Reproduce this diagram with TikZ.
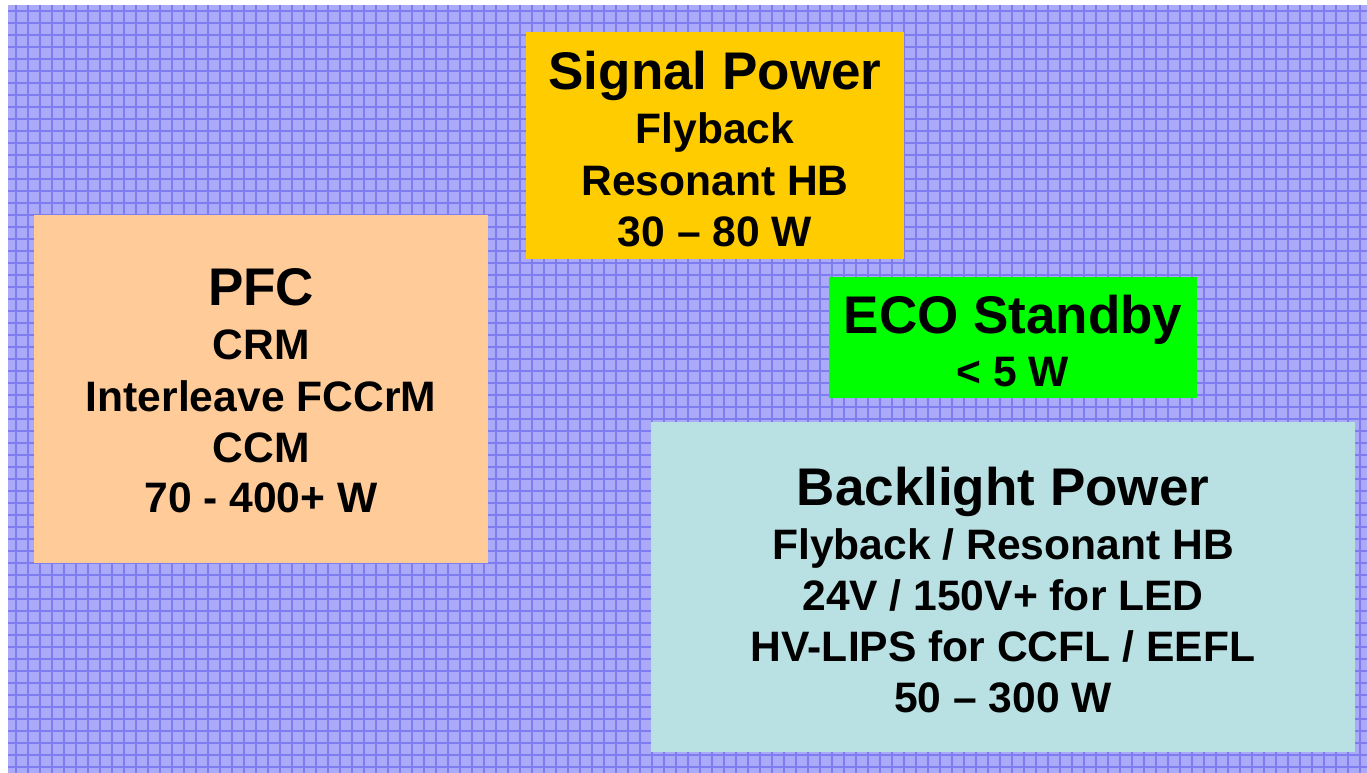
\documentclass[tikz,border=0pt]{standalone}
\usepackage{fontspec}
\setmainfont{Liberation Sans}
\definecolor{bgfill}{RGB}{170,170,248}
\definecolor{bgline}{RGB}{125,125,240}
\definecolor{sigcol}{RGB}{255,204,0}
\definecolor{pfccol}{RGB}{255,204,153}
\definecolor{ecocol}{RGB}{0,255,0}
\definecolor{blcol}{RGB}{185,224,226}
\tikzset{
  ttl/.style={anchor=base, font=\bfseries\fontsize{53}{60}\selectfont, inner sep=0pt},
  sub/.style={anchor=base, font=\bfseries\fontsize{42.6}{50}\selectfont, inner sep=0pt},
  gridln/.style={bgline, line width=1.3pt},
}
\begin{document}
\begin{tikzpicture}[x=1pt,y=-1pt]
\useasboundingbox (0,0) rectangle (1367,773);
\fill[white] (0,0) rectangle (1367,773);
% patterned background
\fill[bgfill] (8,5) rectangle (1367,773);
\begin{scope}
\clip (8,5) rectangle (1367,773);
\foreach \i in {0,...,113} {
  \draw[gridln] (16+12*\i,5) -- (16+12*\i,773);
}
\foreach \j in {0,...,64} {
  \draw[gridln] (8,11+12*\j) -- (1367,11+12*\j);
}
\end{scope}
% boxes
\fill[sigcol] (526,32) rectangle (904,259);
\fill[pfccol] (34,215) rectangle (488,563);
\fill[ecocol] (829,277) rectangle (1197,398);
\fill[blcol] (651,422) rectangle (1355,752);
% Signal Power
\node[ttl] (s0) at (715,90) {Signal Power};
\node[sub] (s1) at (715,143) {Flyback};
\node[sub] (s2) at (715,195) {Resonant HB};
\node[sub] (s3) at (715,246) {30 – 80 W};
% PFC
\node[ttl] (p0) at (261,305) {PFC};
\node[sub] (p1) at (261,359) {CRM};
\node[sub] (p2) at (261,411) {Interleave FCCrM};
\node[sub] (p3) at (261,462) {CCM};
\node[sub] (p4) at (261,512) {70 - 400+ W};
% ECO
\node[ttl] (e0) at (1013,333) {ECO Standby};
\node[sub] (e1) at (1013,386) {< 5 W};
% Backlight
\node[ttl] (b0) at (1003,505) {Backlight Power};
\node[sub] (b1) at (1003,559) {Flyback / Resonant HB};
\node[sub] (b2) at (1003,610) {24V / 150V+ for LED};
\node[sub] (b3) at (1003,661) {HV-LIPS for CCFL / EEFL};
\node[sub] (b4) at (1003,712) {50 – 300 W};
\end{tikzpicture}
\end{document}
